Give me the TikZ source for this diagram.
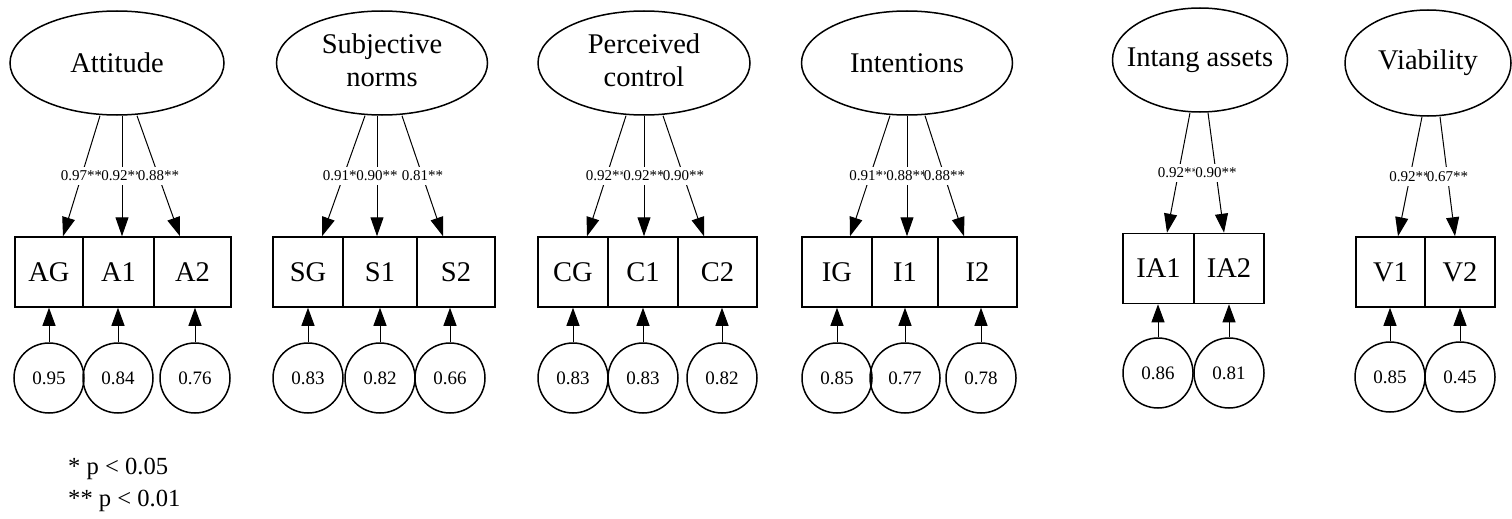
\documentclass[tikz,border=0pt]{standalone}
\usepackage{fontspec}
\setmainfont{Liberation Serif}
\usetikzlibrary{arrows.meta,shapes.geometric}
\begin{document}
\begin{tikzpicture}[x=1pt,y=-1pt,
  latent/.style={draw,ellipse,line width=1.5pt,inner sep=0pt,
    font=\fontsize{28.5}{33}\selectfont},
  manifest/.style={draw,rectangle,line width=1.5pt,inner sep=0pt,
    minimum height=70pt,font=\fontsize{28.5}{33}\selectfont},
  errnode/.style={draw,circle,line width=1.5pt,inner sep=0pt,
    minimum size=70pt,font=\fontsize{19}{22}\selectfont},
  load/.style={-{Triangle[length=19pt,width=13pt]},line width=1pt},
  errarrow/.style={-{Triangle[length=18pt,width=13pt]},line width=1pt},
  coef/.style={fill=white,inner xsep=0.3pt,inner ysep=4pt,
    font=\fontsize{15}{17}\selectfont},
  legend/.style={anchor=west,inner sep=0pt,font=\fontsize{24.6}{28}\selectfont}]
\useasboundingbox (0,0) rectangle (1512,519);

% ---------- Attitude ----------
\node[latent,minimum width=214pt,minimum height=104pt] (Att) at (117,63) {\makebox[0pt]{Attitude}};
\node[manifest,minimum width=68pt] (AG) at (49,272) {AG};
\node[manifest,minimum width=71pt] (A1) at (118.5,272) {A1};
\node[manifest,minimum width=77pt] (A2) at (192.5,272) {A2};
\node[errnode] (eAG) at (49,378) {0.95};
\node[errnode] (eA1) at (118,378) {0.84};
\node[errnode] (eA2) at (195,378) {0.76};
\draw[load] ([xshift=-17pt]Att.south) -- ([xshift=14pt]AG.north) node[coef,pos=0.5] {0.97**};
\draw[load] ([xshift=5pt]Att.south) -- ([xshift=3.5pt]A1.north) node[coef,pos=0.5] {0.92**};
\draw[load] ([xshift=20pt]Att.south) -- ([xshift=-12.5pt]A2.north) node[coef,pos=0.5] {0.88**};
\draw[errarrow] (eAG.north) -- (eAG.north |- AG.south);
\draw[errarrow] (eA1.north) -- (eA1.north |- A1.south);
\draw[errarrow] (eA2.north) -- (eA2.north |- A2.south);

% ---------- Subjective norms ----------
\node[latent,minimum width=211pt,minimum height=104pt] (SN) at (382,63)
  {\makebox[0pt]{\begin{tabular}{@{}c@{}}Subjective\\norms\end{tabular}}};
\node[manifest,minimum width=70pt] (SG) at (308,272) {SG};
\node[manifest,minimum width=74pt] (S1) at (380,272) {S1};
\node[manifest,minimum width=78pt] (S2) at (456,272) {S2};
\node[errnode] (eSG) at (308,378) {0.83};
\node[errnode] (eS1) at (380,378) {0.82};
\node[errnode] (eS2) at (450,378) {0.66};
\draw[load] ([xshift=-17pt]SN.south) -- ([xshift=14pt]SG.north) node[coef,pos=0.5] {0.91**};
\draw[load] ([xshift=-5pt]SN.south) -- ([xshift=-3pt]S1.north) node[coef,pos=0.5] {0.90**};
\draw[load] ([xshift=20pt]SN.south) -- ([xshift=-13pt]S2.north) node[coef,pos=0.5] {0.81**};
\draw[errarrow] (eSG.north) -- (eSG.north |- SG.south);
\draw[errarrow] (eS1.north) -- (eS1.north |- S1.south);
\draw[errarrow] (eS2.north) -- (eS2.north |- S2.south);

% ---------- Perceived control ----------
\node[latent,minimum width=212pt,minimum height=104pt] (PC) at (644,63)
  {\makebox[0pt]{\begin{tabular}{@{}c@{}}Perceived\\control\end{tabular}}};
\node[manifest,minimum width=70pt] (CG) at (573,272) {CG};
\node[manifest,minimum width=70pt] (C1) at (643,272) {C1};
\node[manifest,minimum width=79pt] (C2) at (717.5,272) {C2};
\node[errnode] (eCG) at (573,378) {0.83};
\node[errnode] (eC1) at (643,378) {0.83};
\node[errnode] (eC2) at (722,378) {0.82};
\draw[load] ([xshift=-18pt]PC.south) -- ([xshift=14pt]CG.north) node[coef,pos=0.5] {0.92**};
\draw[load] (PC.south) -- ([xshift=1pt]C1.north) node[coef,pos=0.5] {0.92**};
\draw[load] ([xshift=19pt]PC.south) -- ([xshift=-13.5pt]C2.north) node[coef,pos=0.5] {0.90**};
\draw[errarrow] (eCG.north) -- (eCG.north |- CG.south);
\draw[errarrow] (eC1.north) -- (eC1.north |- C1.south);
\draw[errarrow] (eC2.north) -- (eC2.north |- C2.south);

% ---------- Intentions ----------
\node[latent,minimum width=211pt,minimum height=104pt] (In) at (907,63) {\makebox[0pt]{Intentions}};
\node[manifest,minimum width=70pt] (IG) at (837,272) {IG};
\node[manifest,minimum width=66pt] (I1) at (905,272) {I1};
\node[manifest,minimum width=79pt] (I2) at (977.5,272) {I2};
\node[errnode] (eIG) at (837,378) {0.85};
\node[errnode] (eI1) at (905,378) {0.77};
\node[errnode] (eI2) at (981,378) {0.78};
\draw[load] ([xshift=-17pt]In.south) -- ([xshift=13pt]IG.north) node[coef,pos=0.5] {0.91**};
\draw[load] (In.south) -- ([xshift=2pt]I1.north) node[coef,pos=0.5] {0.88**};
\draw[load] ([xshift=18pt]In.south) -- ([xshift=-13.5pt]I2.north) node[coef,pos=0.5] {0.88**};
\draw[errarrow] (eIG.north) -- (eIG.north |- IG.south);
\draw[errarrow] (eI1.north) -- (eI1.north |- I1.south);
\draw[errarrow] (eI2.north) -- (eI2.north |- I2.south);

% ---------- Intangible assets ----------
\node[latent,minimum width=175pt,minimum height=104pt] (IA) at (1200,60) {\makebox[0pt]{Intang assets}};
\node[manifest,minimum width=71pt] (IA1) at (1158.5,268.5) {IA1};
\node[manifest,minimum width=70pt] (IA2) at (1229,268.5) {IA2};
\node[errnode] (eIA1) at (1158,373) {0.86};
\node[errnode] (eIA2) at (1229,373) {0.81};
\draw[load] ([xshift=-10pt]IA.south) -- ([xshift=8.5pt]IA1.north) node[coef,pos=0.5] {0.92**};
\draw[load] ([xshift=8pt]IA.south) -- ([xshift=-5pt]IA2.north) node[coef,pos=0.5] {0.90**};
\draw[errarrow] (eIA1.north) -- (eIA1.north |- IA1.south);
\draw[errarrow] (eIA2.north) -- (eIA2.north |- IA2.south);

% ---------- Viability ----------
\node[latent,minimum width=166pt,minimum height=106pt] (Vi) at (1428,63) {\makebox[0pt]{Viability}};
\node[manifest,minimum width=69pt] (V1) at (1390.5,272) {V1};
\node[manifest,minimum width=70pt] (V2) at (1460,272) {V2};
\node[errnode] (eV1) at (1390,377) {0.85};
\node[errnode] (eV2) at (1460,377) {0.45};
\draw[load] ([xshift=-6pt]Vi.south) -- ([xshift=7.5pt]V1.north) node[coef,pos=0.5] {0.92**};
\draw[load] ([xshift=12pt]Vi.south) -- ([xshift=-5pt]V2.north) node[coef,pos=0.5] {0.67**};
\draw[errarrow] (eV1.north) -- (eV1.north |- V1.south);
\draw[errarrow] (eV2.north) -- (eV2.north |- V2.south);

% ---------- significance legend ----------
\node[legend] (sig1) at (68,469) {* p < 0.05};
\node[legend] (sig2) at (68,501) {** p < 0.01};
\end{tikzpicture}
\end{document}
